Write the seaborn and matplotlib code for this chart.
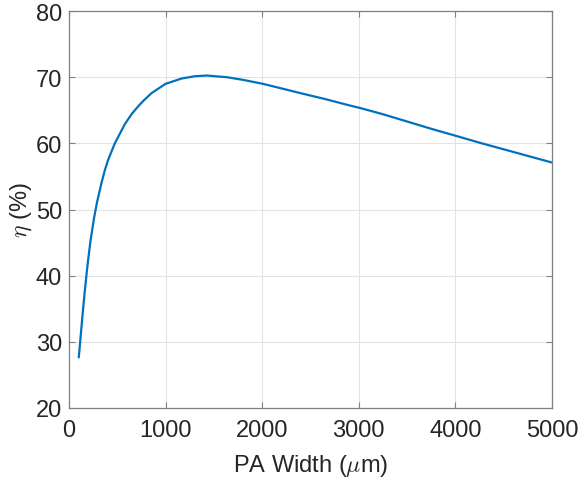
import matplotlib
matplotlib.use('Agg')
from matplotlib import pyplot as plt
import seaborn as sns
import pandas as pd

# values
width_um = [101, 121, 142, 163, 177, 198, 222, 259, 290, 336, 370, 405, 474,
            578, 647, 716, 768, 855, 1000, 1166, 1304, 1425, 1633, 1800, 2006,
            2200, 2393, 2650, 2912, 3012, 3250, 3500, 3750, 4013, 4250, 4500,
            4750, 5000]
eta_pct = [27.65, 30.9, 34.4, 37.6, 39.6, 42.4, 45.2, 48.7, 51.1, 54.0, 55.9,
           57.5, 60.0, 62.9, 64.4, 65.6, 66.4, 67.6, 69.0, 69.8, 70.15, 70.25,
           70.0, 69.6, 69.0, 68.3, 67.6, 66.7, 65.7, 65.35, 64.4, 63.3, 62.2,
           61.1, 60.1, 59.1, 58.1, 57.1]

xticks = [0, 1000, 2000, 3000, 4000, 5000]
yticks = [20, 30, 40, 50, 60, 70, 80]

df = pd.DataFrame({'width': width_um, 'eta': eta_pct})

sns.set_theme(style='white')
plt.rcParams['font.family'] = ['Liberation Sans', 'DejaVu Sans']
plt.rcParams['mathtext.fontset'] = 'cm'

fig = plt.figure(figsize=(5.78, 4.81), dpi=100)
ax = fig.add_axes([0.1194, 0.1497, 0.8356, 0.8253])

sns.lineplot(data=df, x='width', y='eta', color='#0072BD', linewidth=1.6, ax=ax)

ax.set_xlim(0, 5000)
ax.set_ylim(20, 80)
ax.set_xticks(xticks)
ax.set_yticks(yticks)
ax.grid(True, color='#e3e3e3', linewidth=0.8)
ax.tick_params(direction='in', length=4, width=0.8, colors='#808080',
               labelcolor='#262626', labelsize=17, top=True, right=True,
               bottom=True, left=True, pad=5)
ax.tick_params(axis='x', pad=8)
for s in ax.spines.values():
    s.set_color('#808080')
    s.set_linewidth(0.9)

ax.set_xlabel(r'PA Width ($\mu$m)', fontsize=17, color='#262626', labelpad=8)
ax.set_ylabel(r'$\eta$ (%)', fontsize=17, color='#262626', labelpad=1)

fig.savefig('out.png', dpi=100)
